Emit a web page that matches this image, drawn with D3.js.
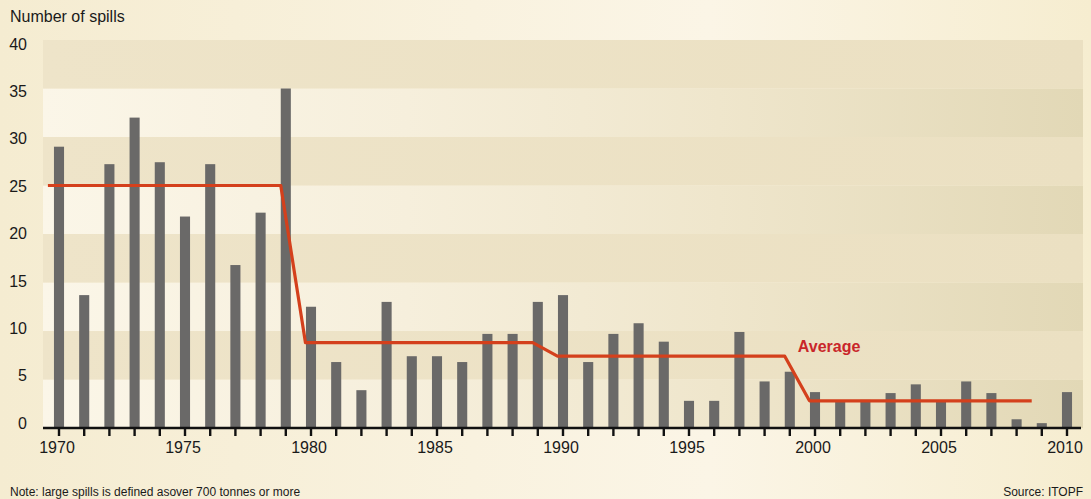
<!DOCTYPE html>
<html>
<head>
<meta charset="utf-8">
<script src="https://d3js.org/d3.v7.min.js"></script>
<style>
  body { margin: 0; background: #f6eed4; }
  svg text { font-family: "Liberation Sans", Arial, sans-serif; }
</style>
</head>
<body>
<div id="chart"></div>
<script>
// ---------------- data ----------------
var years = d3.range(1970, 2011);
var spills = [29, 13.7, 27.2, 32, 27.4, 21.8, 27.2, 16.8, 22.2, 35,
              12.5, 6.8, 3.9, 13, 7.4, 7.4, 6.8, 9.7, 9.7, 13,
              13.7, 6.8, 9.7, 10.8, 8.9, 2.8, 2.8, 9.9, 4.8, 5.8,
              3.7, 2.8, 2.9, 3.6, 4.5, 2.8, 4.8, 3.6, 0.9, 0.5,
              3.7];
var avgStart = [1970, 1980, 1990, 2000];
var avgEnd = [1979, 1989, 1999, 2009];
var avgValue = [25, 8.8, 7.4, 2.8];
var yTicks = [0, 5, 10, 15, 20, 25, 30, 35, 40];
var xLabelYears = [1970, 1975, 1980, 1985, 1990, 1995, 2000, 2005, 2010];

// ---------------- layout ----------------
var width = 1091, height = 499;
var plot = { left: 43, right: 1083, top: 40, bottom: 428 };

var svg = d3.select("#chart").append("svg")
  .attr("width", width)
  .attr("height", height);

var defs = svg.append("defs");

function grad(id, stops) {
  var g = defs.append("linearGradient")
    .attr("id", id)
    .attr("x1", "0%").attr("y1", "0%")
    .attr("x2", "100%").attr("y2", "0%");
  stops.forEach(function(s) {
    g.append("stop").attr("offset", s[0]).attr("stop-color", s[1]);
  });
}

grad("pageGrad", [["0%", "#f5ecd1"], ["65%", "#fbf5e6"], ["100%", "#f6edd0"]]);
grad("lightBand", [["0%", "#fbf6e8"], ["35%", "#f6efdc"], ["65%", "#efe6cc"], ["100%", "#e2d8b6"]]);
grad("darkBand", [["0%", "#eee4c9"], ["100%", "#ebe0c2"]]);

svg.append("rect")
  .attr("width", width)
  .attr("height", height)
  .attr("fill", "url(#pageGrad)");

// scales
var y = d3.scaleLinear()
  .domain([0, 40])
  .range([plot.bottom, plot.top]);

var x = d3.scaleBand()
  .domain(years)
  .range([plot.left, plot.right])
  .paddingInner(0.6)
  .paddingOuter(0.435);

var bw = x.bandwidth();
var xLin = d3.scaleLinear()
  .domain([1970, 2010])
  .range([x(1970) + bw / 2, x(2010) + bw / 2]);

// background bands
var bands = d3.range(0, 40, 5);
svg.append("g").selectAll("rect")
  .data(bands)
  .enter()
  .append("rect")
  .attr("x", plot.left)
  .attr("width", plot.right - plot.left)
  .attr("y", function(d) { return y(d + 5); })
  .attr("height", function(d) { return y(d) - y(d + 5); })
  .attr("fill", function(d) { return (d / 5) % 2 == 0 ? "url(#lightBand)" : "url(#darkBand)"; });

// bars
svg.append("g").selectAll("rect")
  .data(years)
  .enter()
  .append("rect")
  .attr("x", function(d) { return x(d); })
  .attr("width", bw)
  .attr("y", function(d, i) { return y(spills[i]); })
  .attr("height", function(d, i) { return y(0) - y(spills[i]); })
  .attr("fill", "#6a6968");

// average line (steps at the left edge of each decade's first bar)
var avgPts = [];
avgValue.forEach(function(v, i) {
  var s = i == 0 ? avgStart[i] - 0.44 : avgStart[i] - 0.22;
  var e = i == avgValue.length - 1 ? avgEnd[i] - 0.4 : avgEnd[i] - 0.2;
  avgPts.push([s, v]);
  avgPts.push([e, v]);
});

var line = d3.line()
  .x(function(d) { return xLin(d[0]); })
  .y(function(d) { return y(d[1]); });

svg.append("path")
  .datum(avgPts)
  .attr("d", line)
  .attr("fill", "none")
  .attr("stroke", "#d4401c")
  .attr("stroke-width", 3.2)
  .attr("stroke-linejoin", "round");

svg.append("text")
  .attr("x", xLin(avgEnd[2]) + 8)
  .attr("y", y(avgValue[2]) - 4)
  .attr("font-size", 16)
  .attr("font-weight", "bold")
  .attr("fill", "#c9262a")
  .text("Average");

// x axis
var xAxis = d3.axisBottom(x)
  .tickValues(years)
  .tickSize(8)
  .tickSizeOuter(0)
  .tickPadding(6)
  .tickFormat(function(d) { return xLabelYears.indexOf(d) > -1 ? d : ""; });

var gx = svg.append("g")
  .attr("transform", "translate(0," + plot.bottom + ")")
  .call(xAxis);

gx.select(".domain").remove();
gx.selectAll(".tick line").attr("stroke", "#111").attr("stroke-width", 2.4);
gx.selectAll(".tick text")
  .attr("font-size", 16)
  .attr("fill", "#1a1a1a")
  .attr("dx", -2);

gx.append("line")
  .attr("x1", plot.left)
  .attr("x2", plot.right - 2)
  .attr("y1", 0)
  .attr("y2", 0)
  .attr("stroke", "#111")
  .attr("stroke-width", 2.6);

// y axis
var yAxis = d3.axisLeft(y)
  .tickValues(yTicks)
  .tickSize(0)
  .tickPadding(16);

var gy = svg.append("g")
  .attr("transform", "translate(" + plot.left + ",0)")
  .call(yAxis);

gy.select(".domain").remove();
gy.selectAll(".tick text")
  .attr("font-size", 16)
  .attr("fill", "#1a1a1a")
  .attr("dy", function(d) { return (0.32 * 16 - 5 + d * 0.225) + "px"; });

// titles / notes
svg.append("text")
  .attr("x", 10)
  .attr("y", 22)
  .attr("font-size", 16)
  .attr("fill", "#1a1a1a")
  .text("Number of spills");

svg.append("text")
  .attr("x", 10)
  .attr("y", 496)
  .attr("font-size", 12)
  .attr("fill", "#1a1a1a")
  .text("Note: large spills is defined asover 700 tonnes or more");

svg.append("text")
  .attr("x", 1083)
  .attr("y", 496)
  .attr("font-size", 12)
  .attr("text-anchor", "end")
  .attr("fill", "#1a1a1a")
  .text("Source: ITOPF");
</script>
</body>
</html>
